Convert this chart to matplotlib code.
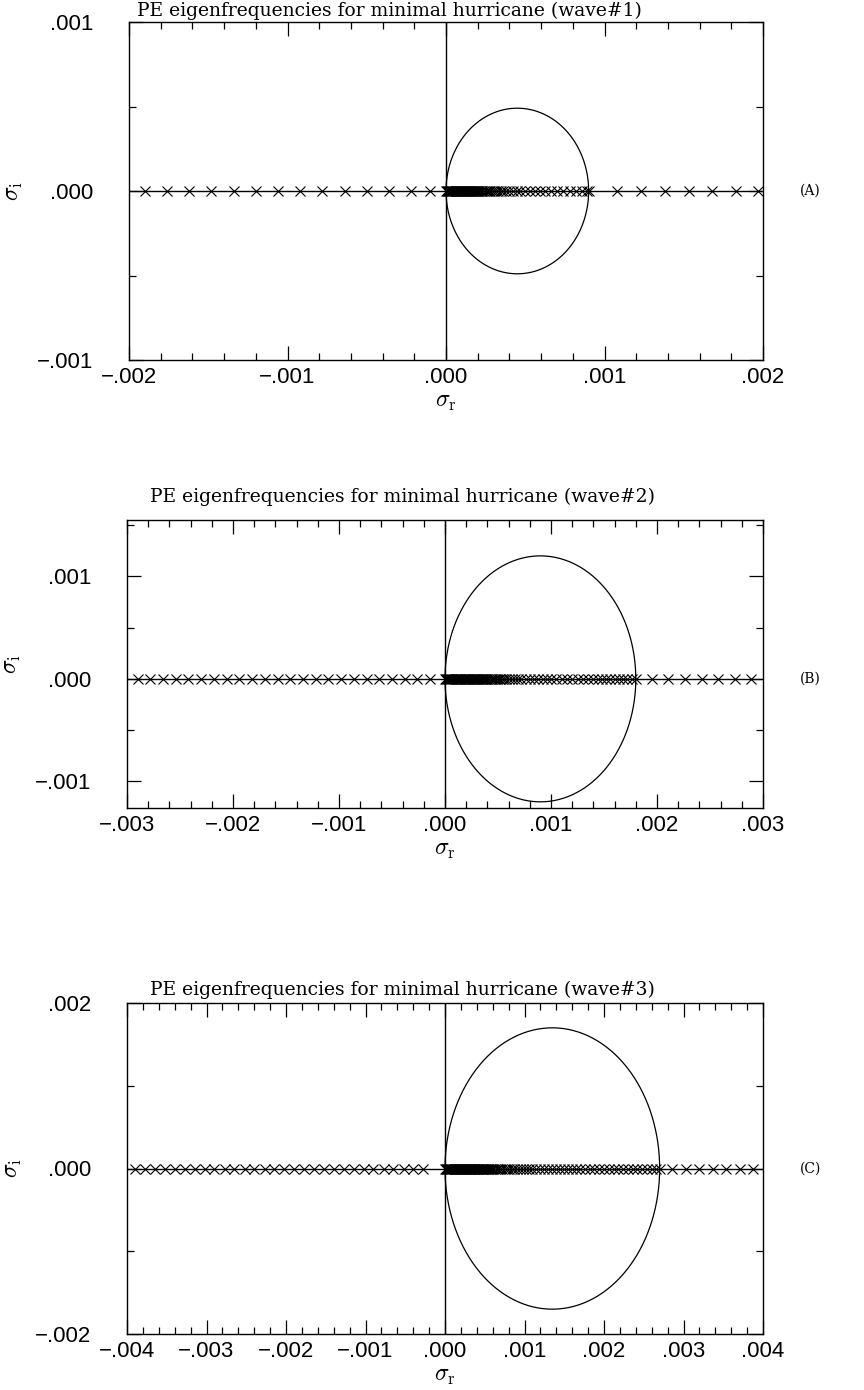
import numpy as np
import matplotlib
matplotlib.use("Agg")
import matplotlib.pyplot as plt
from matplotlib.ticker import MultipleLocator, FuncFormatter

plt.rcParams['mathtext.fontset'] = 'cm'
plt.rcParams['font.family'] = ['Liberation Sans', 'DejaVu Sans']

# ---- data (units of 1e-3 s^-1) ----
titles = ["PE eigenfrequencies for minimal hurricane (wave#1)",
          "PE eigenfrequencies for minimal hurricane (wave#2)",
          "PE eigenfrequencies for minimal hurricane (wave#3)"]
panel_tags = ["(A)", "(B)", "(C)"]
xlims = [2.0, 3.0, 4.0]
ylims_lo = [-1.0, -1.26, -2.0]
ylims_hi = [1.0, 1.55, 2.0]
ymajor = [1.0, 1.0, 2.0]
yminor = [0.5, 0.5, 1.0]
circle_right = [0.9, 1.8, 2.7]     # semicircle spans 0 .. Umax on the real axis
circle_height = [0.49, 1.2, 1.7]   # apparent half-height of the drawn circle

A_left = [-1.90, -1.76, -1.62, -1.48, -1.34, -1.20, -1.06, -0.92, -0.78, -0.64,
          -0.50, -0.36, -0.22, -0.10]
A_dense = [0.000, 0.005, 0.010, 0.015, 0.020, 0.025, 0.030, 0.035, 0.040, 0.045,
           0.050, 0.055, 0.060, 0.065, 0.070, 0.075, 0.080, 0.085, 0.090, 0.095,
           0.100, 0.105, 0.110, 0.115, 0.120, 0.125, 0.130, 0.135, 0.140, 0.145,
           0.150, 0.155, 0.160, 0.165, 0.170, 0.175, 0.180, 0.185, 0.190, 0.195,
           0.200, 0.210, 0.220, 0.230, 0.240, 0.250, 0.260, 0.270, 0.280, 0.290,
           0.300, 0.315, 0.330, 0.345, 0.360, 0.380, 0.400, 0.420, 0.445, 0.470,
           0.500, 0.530, 0.560, 0.590, 0.625, 0.660, 0.700, 0.740, 0.780, 0.820,
           0.860, 0.890, 0.900]
A_right = [1.08, 1.23, 1.38, 1.53, 1.68, 1.83, 1.97]

B_left = [-2.90, -2.78, -2.66, -2.54, -2.42, -2.30, -2.18, -2.06, -1.94, -1.82,
          -1.70, -1.58, -1.46, -1.34, -1.22, -1.10, -0.98, -0.86, -0.74, -0.62,
          -0.50, -0.38, -0.26, -0.14]
B_dense = [0.000, 0.010, 0.020, 0.030, 0.040, 0.050, 0.060, 0.070, 0.080, 0.090,
           0.100, 0.110, 0.120, 0.130, 0.140, 0.150, 0.160, 0.170, 0.180, 0.190,
           0.200, 0.210, 0.220, 0.230, 0.240, 0.250, 0.260, 0.270, 0.280, 0.290,
           0.300, 0.310, 0.320, 0.330, 0.340, 0.350, 0.360, 0.370, 0.380, 0.390,
           0.400, 0.415, 0.430, 0.445, 0.460, 0.475, 0.490, 0.505, 0.520, 0.540,
           0.560, 0.580, 0.600, 0.630, 0.660, 0.690, 0.720, 0.760, 0.800, 0.840,
           0.880, 0.920, 0.960, 1.000, 1.050, 1.100, 1.150, 1.200, 1.250, 1.300,
           1.350, 1.400, 1.440, 1.480, 1.520, 1.560, 1.600, 1.640, 1.680, 1.720,
           1.760, 1.800]
B_right = [1.95, 2.10, 2.26, 2.42, 2.58, 2.74, 2.89]

C_left = [-3.90, -3.77, -3.65, -3.52, -3.40, -3.27, -3.15, -3.02, -2.90, -2.77,
          -2.65, -2.52, -2.40, -2.27, -2.15, -2.02, -1.90, -1.77, -1.65, -1.52,
          -1.40, -1.27, -1.15, -1.02, -0.90, -0.77, -0.65, -0.52, -0.40, -0.28]
C_dense = [0.000, 0.010, 0.020, 0.030, 0.040, 0.050, 0.060, 0.070, 0.080, 0.090,
           0.100, 0.110, 0.120, 0.130, 0.140, 0.150, 0.160, 0.170, 0.180, 0.190,
           0.200, 0.210, 0.220, 0.230, 0.240, 0.250, 0.260, 0.270, 0.280, 0.290,
           0.300, 0.310, 0.320, 0.330, 0.340, 0.350, 0.360, 0.370, 0.380, 0.390,
           0.400, 0.410, 0.420, 0.430, 0.440, 0.450, 0.460, 0.470, 0.480, 0.490,
           0.500, 0.515, 0.530, 0.545, 0.560, 0.575, 0.590, 0.610, 0.630, 0.650,
           0.670, 0.690, 0.720, 0.750, 0.780, 0.810, 0.840, 0.870, 0.900, 0.940,
           0.980, 1.020, 1.060, 1.100, 1.150, 1.200, 1.250, 1.300, 1.350, 1.400,
           1.450, 1.500, 1.550, 1.600, 1.650, 1.700, 1.760, 1.820, 1.880, 1.940,
           2.000, 2.060, 2.120, 2.180, 2.240, 2.300, 2.360, 2.420, 2.480, 2.540,
           2.600, 2.650, 2.700]
C_right = [2.86, 3.03, 3.20, 3.37, 3.54, 3.71, 3.88]

eig_sets = [(A_left, A_dense, A_right), (B_left, B_dense, B_right),
            (C_left, C_dense, C_right)]

W, H = 864, 1390
fig = plt.figure(figsize=(W / 100, H / 100), dpi=100)

# layout in pixels: axes (left, top, right, bottom), title (x-left, y-center)
boxes = [(129, 22, 763, 360), (127, 520, 763, 808), (127, 1003, 763, 1334)]
title_pos = [(137, 11), (150, 497), (150, 990)]

def fmt(v, pos):
    s = f"{abs(v):.3f}"
    if s.startswith("0"):
        s = s[1:]
    return ("\u2212" + s) if v < -1e-12 else s

serif = ['DejaVu Serif', 'Liberation Serif']

for i in range(3):
    l, t, r, b = boxes[i]
    ax = fig.add_axes([l / W, 1 - b / H, (r - l) / W, (b - t) / H])
    xl = xlims[i] * 1e-3
    ax.set_xlim(-xl, xl)
    ax.set_ylim(ylims_lo[i] * 1e-3, ylims_hi[i] * 1e-3)

    # zero lines
    ax.axhline(0, color='black', lw=1.0, zorder=2)
    ax.axvline(0, color='black', lw=1.0, zorder=2)

    # semicircle-theorem circle
    R = circle_right[i] * 1e-3 / 2
    Ry = circle_height[i] * 1e-3
    th = np.linspace(0, 2 * np.pi, 400)
    ax.plot(R + R * np.cos(th), Ry * np.sin(th), color='black', lw=0.9)

    left, dense, right = eig_sets[i]
    xs = np.array(left + dense + right) * 1e-3
    ax.plot(xs, np.zeros_like(xs), linestyle='none', marker='x', ms=6.5,
            mew=0.8, color='black', zorder=3)

    ax.xaxis.set_major_locator(MultipleLocator(1e-3))
    ax.xaxis.set_minor_locator(MultipleLocator(2e-4))
    ax.yaxis.set_major_locator(MultipleLocator(ymajor[i] * 1e-3))
    ax.yaxis.set_minor_locator(MultipleLocator(yminor[i] * 1e-3))
    ax.xaxis.set_major_formatter(FuncFormatter(fmt))
    ax.yaxis.set_major_formatter(FuncFormatter(fmt))
    ax.tick_params(which='both', direction='in', top=True, right=True,
                   width=0.9, labelsize=16)
    ax.tick_params(which='major', length=10)
    ax.tick_params(axis='x', which='major', pad=5)
    ax.tick_params(axis='y', which='major', pad=26)
    ax.tick_params(which='minor', length=5)
    for sp in ax.spines.values():
        sp.set_linewidth(1.0)

    tx, ty = title_pos[i]
    fig.text(tx / W, 1 - ty / H, titles[i], family=serif, fontsize=13.5,
             ha='left', va='center')
    ax.set_xlabel(r'$\sigma_{\rm r}$', fontsize=17, labelpad=2)
    ax.set_ylabel(r'$\sigma_{\rm i}$', fontsize=17, labelpad=8)
    ax.text(1.075, -ylims_lo[i] / (ylims_hi[i] - ylims_lo[i]), panel_tags[i],
            transform=ax.transAxes, family=serif, fontsize=10,
            va='center', ha='center')

fig.savefig("out.png", dpi=100)
